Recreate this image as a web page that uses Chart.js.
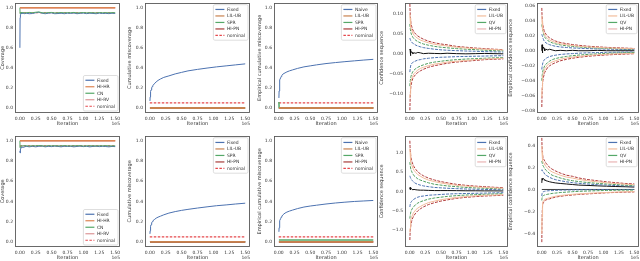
<!DOCTYPE html>
<html><head><meta charset="utf-8">
<script src="https://cdn.jsdelivr.net/npm/chart.js@4.4.0/dist/chart.umd.min.js"></script>
<style>html,body{margin:0;padding:0;background:#fff;width:640px;height:261px;overflow:hidden;position:relative}canvas{position:absolute}</style>
</head><body>
<script>
// ---------- data ----------
const xTicks = [0, 0.25, 0.5, 0.75, 1.0, 1.25, 1.5];
const xTickLabels = ['0.00','0.25','0.50','0.75','1.00','1.25','1.50'];
const unitTicks = [0, 0.2, 0.4, 0.6, 0.8, 1.0];
const unitTickLabels = ['0.0','0.2','0.4','0.6','0.8','1.0'];
const csTopTicks = [-0.10, -0.05, 0, 0.05, 0.10];
const csTopTickLabels = ['\u22120.10','\u22120.05','0.00','0.05','0.10'];
const ecsTopTicks = [-0.08, -0.06, -0.04, -0.02, 0, 0.02, 0.04, 0.06];
const ecsTopTickLabels = ['\u22120.08','\u22120.06','\u22120.04','\u22120.02','0.00','0.02','0.04','0.06'];
const csBotTicks = [-1.0, -0.5, 0, 0.5, 1.0];
const csBotTickLabels = ['\u22121.0','\u22120.5','0.0','0.5','1.0'];
const ecsBotTicks = [-0.4, -0.2, 0, 0.2, 0.4];
const ecsBotTickLabels = ['\u22120.4','\u22120.2','0.0','0.2','0.4'];

const covIters = [0.002,0.005,0.01,0.02,0.03,0.05,0.08,0.1,0.15,0.2,0.25,0.3,0.35,0.4,0.45,0.5,0.55,0.6,0.65,0.7,0.75,0.8,0.85,0.9,0.95,1.0,1.05,1.1,1.15,1.2,1.25,1.3,1.35,1.4,1.45,1.5];
const covFixedTop = [0.60,0.90,0.93,0.95,0.94,0.945,0.94,0.945,0.94,0.942,0.95,0.955,0.945,0.94,0.945,0.948,0.94,0.942,0.945,0.94,0.945,0.943,0.947,0.94,0.944,0.946,0.941,0.945,0.943,0.94,0.946,0.942,0.944,0.941,0.945,0.943];
const covCnTop = [1.0,0.94,0.95,0.955,0.95,0.952,0.948,0.95,0.953,0.95,0.955,0.958,0.95,0.948,0.952,0.953,0.948,0.95,0.952,0.949,0.951,0.95,0.953,0.948,0.95,0.952,0.949,0.951,0.95,0.948,0.952,0.95,0.951,0.949,0.951,0.95];
const covFixedBot = [0.90,0.88,0.92,0.93,0.94,0.935,0.94,0.945,0.94,0.945,0.94,0.945,0.948,0.94,0.945,0.942,0.947,0.944,0.94,0.946,0.943,0.945,0.94,0.944,0.947,0.942,0.945,0.94,0.944,0.946,0.942,0.945,0.943,0.94,0.944,0.942];
const covCnBot = [1.0,0.93,0.945,0.95,0.948,0.95,0.952,0.95,0.948,0.951,0.95,0.953,0.95,0.948,0.952,0.95,0.951,0.949,0.95,0.952,0.95,0.949,0.951,0.95,0.952,0.948,0.95,0.951,0.95,0.949,0.951,0.95,0.952,0.95,0.949,0.95];

const spanX = [0.003, 1.5];
const nominalX = [0, 1.5];
const hipnEndX = [0.003, 1.05];
const covOne = [1.0, 1.0];
const nominalCov = [0.95, 0.95];
const nominalMiss = [0.05, 0.05];
const zeroLine = [0, 0];
const p3SprX = [0.003, 0.006, 1.5];
const p3Spr = [0.06, 0.003, 0.003];
const p8Spr = [0.02, 0.02];

const iters = [0.003,0.006,0.01,0.015,0.02,0.03,0.04,0.05,0.07,0.1,0.13,0.17,0.22,0.3,0.4,0.5,0.6,0.75,0.9,1.05,1.2,1.35,1.5];
const missFixedTop = [0.07,0.11,0.14,0.165,0.18,0.2,0.215,0.225,0.24,0.26,0.275,0.29,0.305,0.32,0.34,0.355,0.37,0.385,0.398,0.41,0.42,0.43,0.44];
const missNaiveTop = [0.1,0.17,0.22,0.26,0.28,0.3,0.315,0.325,0.34,0.35,0.36,0.37,0.38,0.395,0.41,0.42,0.43,0.443,0.453,0.462,0.47,0.478,0.485];
const missFixedBot = [0.08,0.11,0.135,0.155,0.17,0.19,0.2,0.21,0.22,0.235,0.245,0.255,0.268,0.285,0.3,0.312,0.322,0.335,0.347,0.358,0.366,0.375,0.383];
const missNaiveBot = [0.1,0.14,0.17,0.195,0.21,0.23,0.245,0.255,0.27,0.285,0.295,0.305,0.315,0.33,0.345,0.355,0.363,0.375,0.385,0.393,0.4,0.405,0.41];

const csTopRedUp = [0.125,0.11,0.095,0.085,0.078,0.07,0.065,0.06,0.055,0.049,0.045,0.041,0.037,0.032,0.028,0.025,0.023,0.019,0.017,0.015,0.0135,0.012,0.011];
const csTopRedLo = [-0.14,-0.12,-0.1,-0.088,-0.08,-0.072,-0.066,-0.061,-0.056,-0.05,-0.046,-0.042,-0.038,-0.033,-0.029,-0.026,-0.023,-0.02,-0.018,-0.016,-0.014,-0.013,-0.012];
const csTopPeachUp = [0.1,0.09,0.08,0.072,0.066,0.06,0.056,0.052,0.047,0.042,0.039,0.035,0.032,0.028,0.024,0.022,0.02,0.017,0.015,0.0135,0.012,0.011,0.01];
const csTopPeachLo = [-0.11,-0.1,-0.088,-0.078,-0.07,-0.063,-0.058,-0.054,-0.049,-0.044,-0.04,-0.036,-0.033,-0.029,-0.025,-0.023,-0.02,-0.018,-0.016,-0.014,-0.0125,-0.0115,-0.0105];
const csTopGreenUp = [0.075,0.068,0.062,0.057,0.053,0.048,0.045,0.042,0.038,0.034,0.031,0.028,0.025,0.022,0.019,0.017,0.0155,0.0135,0.012,0.011,0.0095,0.0085,0.008];
const csTopGreenLo = [-0.08,-0.072,-0.066,-0.06,-0.056,-0.051,-0.047,-0.044,-0.04,-0.036,-0.033,-0.03,-0.027,-0.023,-0.02,-0.018,-0.016,-0.014,-0.0125,-0.0115,-0.0105,-0.0095,-0.009];
const csTopBlueUp = [0.04,0.038,0.036,0.034,0.032,0.03,0.028,0.027,0.025,0.022,0.02,0.018,0.016,0.014,0.012,0.0105,0.0095,0.0085,0.0075,0.007,0.006,0.0055,0.005];
const csTopBlueLo = [-0.045,-0.04,-0.035,-0.03,-0.027,-0.024,-0.022,-0.021,-0.019,-0.017,-0.015,-0.014,-0.012,-0.0105,-0.009,-0.008,-0.0075,-0.0065,-0.006,-0.0055,-0.005,-0.0045,-0.004];
const csTopEst = [0.01,0.012,0.005,-0.004,0.002,0.006,0.004,0.001,0.003,0.002,0.004,0.003,0.001,0.002,0.0015,0.001,0.002,0.001,0.0005,0.001,0.0015,0.001,0.0005];

const ecsTopRedUp = [0.057,0.048,0.042,0.037,0.034,0.03,0.027,0.025,0.022,0.019,0.017,0.015,0.013,0.011,0.0095,0.0082,0.0072,0.006,0.0052,0.0045,0.004,0.0035,0.003];
const ecsTopRedLo = [-0.075,-0.06,-0.05,-0.044,-0.04,-0.035,-0.032,-0.029,-0.026,-0.022,-0.02,-0.018,-0.016,-0.0135,-0.0115,-0.01,-0.0088,-0.0074,-0.0064,-0.0056,-0.005,-0.0045,-0.004];
const ecsTopPeachUp = [0.047,0.04,0.035,0.031,0.028,0.025,0.0225,0.021,0.0185,0.016,0.0143,0.0126,0.011,0.0093,0.008,0.0069,0.006,0.005,0.0044,0.0038,0.0034,0.003,0.0026];
const ecsTopPeachLo = [-0.062,-0.05,-0.042,-0.037,-0.034,-0.03,-0.027,-0.024,-0.022,-0.0185,-0.017,-0.015,-0.0135,-0.0114,-0.0097,-0.0085,-0.0075,-0.0063,-0.0054,-0.0047,-0.0042,-0.0038,-0.0034];
const ecsTopGreenUp = [0.035,0.033,0.031,0.028,0.026,0.023,0.02,0.018,0.016,0.0135,0.012,0.0105,0.0092,0.0078,0.0066,0.0057,0.005,0.0042,0.0036,0.0031,0.0027,0.0024,0.0022];
const ecsTopGreenLo = [-0.04,-0.036,-0.032,-0.029,-0.027,-0.024,-0.022,-0.02,-0.018,-0.0155,-0.0138,-0.012,-0.0105,-0.009,-0.0076,-0.0066,-0.0058,-0.0049,-0.0042,-0.0036,-0.0031,-0.0027,-0.0024];
const ecsTopBlueUp = [0.022,0.021,0.02,0.019,0.017,0.015,0.013,0.012,0.0105,0.009,0.008,0.007,0.006,0.005,0.0043,0.0037,0.0033,0.0028,0.0024,0.0021,0.0019,0.0017,0.0015];
const ecsTopBlueLo = [-0.025,-0.022,-0.02,-0.018,-0.016,-0.014,-0.0125,-0.0115,-0.0102,-0.0088,-0.0078,-0.0068,-0.006,-0.005,-0.0043,-0.0038,-0.0033,-0.0028,-0.0025,-0.0022,-0.002,-0.0018,-0.0016];
const ecsTopEst = [0.0,0.008,0.004,-0.003,0.002,0.005,0.003,0.0,0.002,0.001,0.002,0.001,0.0,0.0005,0.0,0.0005,0.0,0.0,0.0005,0.0,0.0,0.0,0.0];

const csBotRedUp = [1.3,1.15,1.05,0.95,0.88,0.8,0.75,0.7,0.63,0.56,0.5,0.45,0.4,0.34,0.29,0.25,0.22,0.18,0.155,0.135,0.12,0.105,0.095];
const csBotRedLo = [-1.25,-1.1,-1.0,-0.92,-0.86,-0.78,-0.72,-0.68,-0.62,-0.55,-0.5,-0.45,-0.4,-0.34,-0.29,-0.25,-0.22,-0.18,-0.155,-0.135,-0.12,-0.11,-0.1];
const csBotPeachUp = [1.1,1.0,0.9,0.82,0.76,0.69,0.64,0.6,0.54,0.48,0.43,0.39,0.345,0.29,0.25,0.215,0.19,0.155,0.135,0.115,0.1,0.09,0.08];
const csBotPeachLo = [-1.05,-0.95,-0.86,-0.79,-0.74,-0.67,-0.62,-0.58,-0.53,-0.47,-0.43,-0.39,-0.345,-0.29,-0.25,-0.215,-0.19,-0.155,-0.135,-0.115,-0.1,-0.095,-0.085];
const csBotGreenUp = [0.75,0.7,0.65,0.6,0.56,0.52,0.48,0.45,0.4,0.36,0.32,0.29,0.26,0.22,0.18,0.16,0.14,0.12,0.1,0.09,0.08,0.07,0.065];
const csBotGreenLo = [-0.7,-0.65,-0.6,-0.56,-0.52,-0.48,-0.45,-0.42,-0.38,-0.34,-0.3,-0.27,-0.24,-0.2,-0.17,-0.15,-0.13,-0.11,-0.095,-0.085,-0.075,-0.068,-0.06];
const csBotBlueUp = [0.4,0.38,0.36,0.34,0.32,0.3,0.28,0.26,0.23,0.2,0.18,0.16,0.14,0.12,0.1,0.09,0.08,0.07,0.06,0.055,0.05,0.045,0.04];
const csBotBlueLo = [-0.4,-0.36,-0.33,-0.3,-0.28,-0.26,-0.24,-0.22,-0.2,-0.17,-0.15,-0.13,-0.12,-0.1,-0.09,-0.08,-0.07,-0.06,-0.055,-0.05,-0.045,-0.04,-0.035];
const csBotEst = [0.05,0.1,0.08,0.04,0.06,0.07,0.05,0.04,0.05,0.04,0.035,0.03,0.03,0.025,0.02,0.02,0.02,0.018,0.015,0.015,0.012,0.012,0.01];

const ecsBotRedUp = [0.47,0.4,0.35,0.32,0.3,0.28,0.27,0.26,0.24,0.22,0.2,0.185,0.17,0.15,0.13,0.12,0.105,0.09,0.08,0.07,0.062,0.055,0.05];
const ecsBotRedLo = [-0.48,-0.3,-0.2,-0.15,-0.13,-0.12,-0.11,-0.1,-0.095,-0.09,-0.085,-0.078,-0.07,-0.062,-0.055,-0.05,-0.045,-0.04,-0.035,-0.03,-0.027,-0.024,-0.022];
const ecsBotPeachUp = [0.4,0.34,0.3,0.28,0.26,0.245,0.235,0.225,0.21,0.19,0.175,0.16,0.148,0.13,0.113,0.104,0.092,0.079,0.07,0.061,0.054,0.048,0.044];
const ecsBotPeachLo = [-0.4,-0.25,-0.17,-0.13,-0.115,-0.105,-0.097,-0.09,-0.085,-0.08,-0.075,-0.069,-0.062,-0.055,-0.049,-0.044,-0.04,-0.035,-0.031,-0.027,-0.024,-0.021,-0.019];
const ecsBotGreenUp = [0.26,0.25,0.24,0.23,0.22,0.21,0.2,0.19,0.175,0.16,0.145,0.13,0.12,0.105,0.09,0.08,0.072,0.063,0.056,0.05,0.045,0.04,0.037];
const ecsBotGreenLo = [-0.1,-0.08,-0.07,-0.065,-0.06,-0.055,-0.052,-0.05,-0.047,-0.043,-0.04,-0.036,-0.033,-0.028,-0.024,-0.02,-0.017,-0.014,-0.011,-0.009,-0.007,-0.006,-0.005];
const ecsBotBlueUp = [0.17,0.18,0.175,0.17,0.165,0.16,0.15,0.14,0.13,0.12,0.11,0.1,0.09,0.08,0.07,0.062,0.056,0.05,0.044,0.04,0.036,0.033,0.03];
const ecsBotBlueLo = [-0.06,-0.04,-0.03,-0.025,-0.022,-0.02,-0.018,-0.016,-0.014,-0.012,-0.011,-0.01,-0.008,-0.006,-0.005,-0.004,-0.003,-0.002,-0.002,-0.001,-0.001,0,0];
const ecsBotEst = [0.06,0.1,0.09,0.085,0.09,0.1,0.09,0.085,0.08,0.075,0.07,0.065,0.06,0.055,0.05,0.045,0.04,0.037,0.033,0.03,0.027,0.025,0.022];

// ---------- styles ----------
const FONT = '"DejaVu Sans", sans-serif';
const TXT = '#333';
const C = {blue:'#4c72b0', orange:'#dd8452', green:'#55a868', pink:'#dc9597', nominal:'#e5484c',
  brown:'#c8824f', dred:'#a83c3a', peach:'#f2bd9c', black:'#111', dgreen:'#4f9e5e', cred:'#b03a3a', lpink:'#eab4b4'};
const NDASH = [2.5, 1.5];

function pts(xs, ys){ return ys.map((y,i)=>({x:xs[i], y:y})); }
function ds(xs, ys, color, width, dash){
  return {data:pts(xs,ys), borderColor:color, borderWidth:width||1, borderDash:dash||[], pointRadius:0, fill:false, tension:0};
}

function drawLegend(ctx, a, L){
  ctx.font = '4.5px ' + FONT;
  const rowH = 6.5, pad = 2, lineLen = 9, gap = 2.5;
  let tw = 0; L.items.forEach(it=>{ tw = Math.max(tw, ctx.measureText(it[0]).width); });
  const w = pad + lineLen + gap + tw + pad + 1;
  const h = L.items.length*rowH + pad*1.5;
  const x = a.right - 2 - w;
  const y = L.pos === 'br' ? a.bottom - 2 - h : a.top + 2;
  ctx.fillStyle = 'rgba(255,255,255,0.85)'; ctx.strokeStyle = '#d0d0d0'; ctx.lineWidth = 0.7; ctx.setLineDash([]);
  ctx.beginPath();
  if (ctx.roundRect) ctx.roundRect(x, y, w, h, 1.5); else ctx.rect(x, y, w, h);
  ctx.fill(); ctx.stroke();
  ctx.textAlign = 'left'; ctx.textBaseline = 'middle';
  L.items.forEach((it,i)=>{
    const cy = y + pad*0.75 + rowH*(i+0.5);
    ctx.strokeStyle = it[1]; ctx.lineWidth = it[3] || 1.2; ctx.setLineDash(it[2] || []);
    ctx.beginPath(); ctx.moveTo(x+pad, cy); ctx.lineTo(x+pad+lineLen, cy); ctx.stroke();
    ctx.setLineDash([]);
    ctx.fillStyle = TXT; ctx.fillText(it[0], x+pad+lineLen+gap, cy+0.3);
  });
}

const decor = {
  id:'decor',
  afterDatasetsDraw(chart, args, opts){
    const ctx = chart.ctx, a = chart.chartArea;
    ctx.save();
    ctx.setLineDash([]);
    ctx.strokeStyle = '#5a5a5a'; ctx.lineWidth = 0.9;
    ctx.strokeRect(Math.round(a.left)+0.5, Math.round(a.top)+0.5, Math.round(a.right-a.left)-1, Math.round(a.bottom-a.top)-1);
    ctx.fillStyle = TXT; ctx.font = '4.5px ' + FONT; ctx.textAlign = 'right'; ctx.textBaseline = 'middle';
    ctx.fillText('1e5', a.right, a.bottom + 11);
    if (opts.legend) drawLegend(ctx, a, opts.legend);
    ctx.restore();
  }
};

function panel(p){
  const PT = 4, PR = 8, XH = 14;
  const c = document.createElement('canvas');
  const W = p.yw + p.fw + PR, H = PT + p.fh + XH;
  c.width = W; c.height = H;
  c.style.left = (p.fl - p.yw) + 'px'; c.style.top = (p.ft - PT) + 'px';
  c.style.width = W + 'px'; c.style.height = H + 'px';
  document.body.appendChild(c);
  new Chart(c, {
    type:'line',
    data:{datasets:p.datasets.slice().reverse()},
    plugins:[decor],
    options:{
      responsive:false, animation:false, devicePixelRatio:1, events:[],
      layout:{padding:{top:PT, right:PR, bottom:0, left:0}},
      plugins:{legend:{display:false}, tooltip:{enabled:false}, decor:{legend:p.legend}},
      scales:{
        x:{type:'linear', min:-0.075, max:1.575,
          afterBuildTicks:s=>{ s.ticks = xTicks.map(v=>({value:v})); },
          afterFit:s=>{ s.height = XH; },
          ticks:{autoSkip:false, maxRotation:0, minRotation:0, padding:3, font:{family:FONT, size:4.5}, color:TXT,
            callback:(v,i)=>xTickLabels[i]},
          grid:{display:false, drawTicks:false}, border:{display:false},
          title:{display:true, text:'Iteration', font:{family:FONT, size:5}, color:TXT, padding:0}},
        y:{type:'linear', min:p.ymin, max:p.ymax,
          afterBuildTicks:s=>{ s.ticks = p.yticks.map(v=>({value:v})); },
          afterFit:s=>{ s.width = p.yw; },
          ticks:{autoSkip:false, padding:2, font:{family:FONT, size:4.5}, color:TXT,
            callback:(v,i)=>p.ylabels[i]},
          grid:{display:false, drawTicks:false}, border:{display:false},
          title:{display:true, text:p.ytitle, font:{family:FONT, size:5}, color:TXT, padding:0}}
      }
    }
  });
}

// legends
const legCov = {pos:'br', items:[['Fixed',C.blue],['HI-HR',C.orange],['CN',C.green],['HI-RV',C.pink],['nominal',C.nominal,NDASH]]};
const legMiss = {pos:'tr', items:[['Fixed',C.blue],['LIL-UB',C.brown],['SPR',C.green],['HI-PN',C.dred],['nominal',C.nominal,NDASH]]};
const legMissN = {pos:'tr', items:[['Naive',C.blue],['LIL-UB',C.brown],['SPR',C.green],['HI-PN',C.dred],['nominal',C.nominal,NDASH]]};
const legCs = {pos:'tr', items:[['Fixed',C.blue],['LIL-UB',C.peach],['QV',C.green],['HI-PN',C.lpink]]};

const D = [3, 1.2];
function csSets(ru, rl, pu, pl, gu, gl, bu, bl, est, zero){
  const s = [
    ds(iters, pu, C.peach, 1), ds(iters, pl, C.peach, 1),
    ds(iters, ru, C.cred, 1, D), ds(iters, rl, C.cred, 1, D),
    ds(iters, gu, C.dgreen, 1, D), ds(iters, gl, C.dgreen, 1, D),
    ds(iters, bu, C.blue, 1, D), ds(iters, bl, C.blue, 1, D)
  ];
  if (zero) s.push(ds(spanX, zeroLine, C.black, 0.8));
  s.push(ds(iters, est, C.black, 1));
  return s.reverse(); // first listed = top-most
}

const TOP = {ft:2, fh:111}, BOT = {ft:135, fh:112};
const COLS = [{fl:15, fw:105, yw:15}, {fl:145, fw:105, yw:18}, {fl:274, fw:104, yw:17}, {fl:405, fw:103, yw:26}, {fl:537, fw:102, yw:29}];

function mk(row, col, extra){ return Object.assign({}, row, COLS[col], extra); }

// top row
panel(mk(TOP, 0, {ymin:-0.05, ymax:1.05, yticks:unitTicks, ylabels:unitTickLabels, ytitle:'Coverage', legend:legCov,
  datasets:[ds(nominalX, nominalCov, C.nominal, 1.2, NDASH), ds(covIters, covFixedTop, C.blue, 1), ds(covIters, covCnTop, C.green, 1),
            ds(spanX, covOne, C.pink, 1.5), ds(spanX, covOne, C.orange, 1.5)]}));
panel(mk(TOP, 1, {ymin:-0.05, ymax:1.05, yticks:unitTicks, ylabels:unitTickLabels, ytitle:'Cumulative miscoverage', legend:legMiss,
  datasets:[ds(nominalX, nominalMiss, C.nominal, 1.2, NDASH), ds(iters, missFixedTop, C.blue, 1), ds(hipnEndX, zeroLine, C.dred, 1.8),
            ds(spanX, zeroLine, '#8fc596', 1.8), ds(spanX, zeroLine, C.brown, 1.8)]}));
panel(mk(TOP, 2, {ymin:-0.05, ymax:1.05, yticks:unitTicks, ylabels:unitTickLabels, ytitle:'Empirical cumulative miscoverage', legend:legMissN,
  datasets:[ds(nominalX, nominalMiss, C.nominal, 1.2, NDASH), ds(iters, missNaiveTop, C.blue, 1), ds(spanX, zeroLine, C.dred, 1.8),
            ds(p3SprX, p3Spr, C.green, 1.5), ds(spanX, zeroLine, C.brown, 1.8)]}));
panel(mk(TOP, 3, {ymin:-0.147, ymax:0.128, yticks:csTopTicks, ylabels:csTopTickLabels, ytitle:'Confidence sequence', legend:legCs,
  datasets:csSets(csTopRedUp, csTopRedLo, csTopPeachUp, csTopPeachLo, csTopGreenUp, csTopGreenLo, csTopBlueUp, csTopBlueLo, csTopEst, false)}));
panel(mk(TOP, 4, {ymin:-0.083, ymax:0.064, yticks:ecsTopTicks, ylabels:ecsTopTickLabels, ytitle:'Empirical confidence sequence', legend:legCs,
  datasets:csSets(ecsTopRedUp, ecsTopRedLo, ecsTopPeachUp, ecsTopPeachLo, ecsTopGreenUp, ecsTopGreenLo, ecsTopBlueUp, ecsTopBlueLo, ecsTopEst, false)}));

// bottom row
panel(mk(BOT, 0, {ymin:-0.05, ymax:1.05, yticks:unitTicks, ylabels:unitTickLabels, ytitle:'Coverage', legend:legCov,
  datasets:[ds(nominalX, nominalCov, C.nominal, 1.2, NDASH), ds(covIters, covFixedBot, C.blue, 1), ds(covIters, covCnBot, C.green, 1),
            ds(spanX, covOne, C.pink, 1.5), ds(spanX, covOne, C.orange, 1.5)]}));
panel(mk(BOT, 1, {ymin:-0.05, ymax:1.05, yticks:unitTicks, ylabels:unitTickLabels, ytitle:'Cumulative miscoverage', legend:legMiss,
  datasets:[ds(nominalX, nominalMiss, C.nominal, 1.2, NDASH), ds(iters, missFixedBot, C.blue, 1), ds(spanX, zeroLine, C.green, 1.8),
            ds(spanX, zeroLine, C.dred, 1.8), ds(spanX, zeroLine, C.brown, 1.8)]}));
panel(mk(BOT, 2, {ymin:-0.05, ymax:1.05, yticks:unitTicks, ylabels:unitTickLabels, ytitle:'Empirical cumulative miscoverage', legend:legMissN,
  datasets:[ds(nominalX, nominalMiss, C.nominal, 1.2, NDASH), ds(iters, missNaiveBot, C.blue, 1), ds(spanX, p8Spr, C.green, 1.5),
            ds(spanX, zeroLine, C.dred, 1.8), ds(spanX, zeroLine, C.brown, 1.8)]}));
panel(mk(BOT, 3, {ymin:-1.43, ymax:1.43, yticks:csBotTicks, ylabels:csBotTickLabels, ytitle:'Confidence sequence', legend:legCs,
  datasets:csSets(csBotRedUp, csBotRedLo, csBotPeachUp, csBotPeachLo, csBotGreenUp, csBotGreenLo, csBotBlueUp, csBotBlueLo, csBotEst, false)}));
panel(mk(BOT, 4, {ymin:-0.524, ymax:0.49, yticks:ecsBotTicks, ylabels:ecsBotTickLabels, ytitle:'Empirical confidence sequence', legend:legCs,
  datasets:csSets(ecsBotRedUp, ecsBotRedLo, ecsBotPeachUp, ecsBotPeachLo, ecsBotGreenUp, ecsBotGreenLo, ecsBotBlueUp, ecsBotBlueLo, ecsBotEst, true)}));
</script>
</body></html>
